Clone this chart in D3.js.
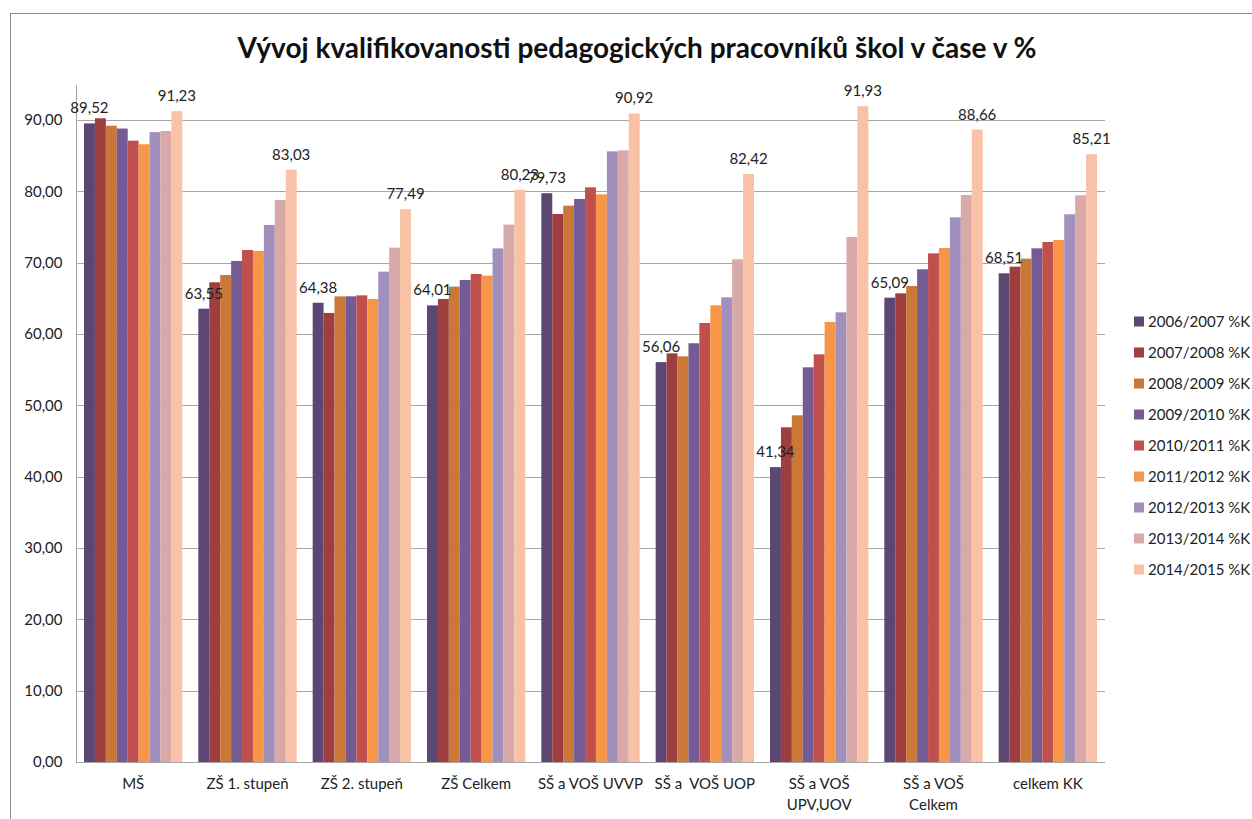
<!DOCTYPE html>
<html>
<head>
<meta charset="utf-8">
<title>Vývoj kvalifikovanosti</title>
<script src="https://d3js.org/d3.v7.min.js"></script>
<style>
body { margin:0; background:#fff; }
svg text { font-family: Lato, "Open Sans", sans-serif; fill:#222; }
</style>
</head>
<body>
<script>
// categories (x axis), "\n" splits into two lines
var categories = ["MŠ", "ZŠ 1. stupeň", "ZŠ 2. stupeň", "ZŠ Celkem", "SŠ a VOŠ UVVP",
  "SŠ a  VOŠ UOP", "SŠ a VOŠ\nUPV,UOV", "SŠ a VOŠ\nCelkem", "celkem KK"];

var seriesNames = ["2006/2007 %K", "2007/2008 %K", "2008/2009 %K", "2009/2010 %K", "2010/2011 %K",
  "2011/2012 %K", "2012/2013 %K", "2013/2014 %K", "2014/2015 %K"];

var colors = ["#5c4672", "#9e3e3f", "#c97837", "#745b95", "#c0504d", "#f79646", "#a190bb", "#d9a9aa", "#f9c1a5"];

// one array per school year, values by category
var s2006 = [89.52, 63.55, 64.38, 64.01, 79.73, 56.06, 41.34, 65.09, 68.51];
var s2007 = [90.24, 67.25, 62.95, 64.91, 76.83, 57.29, 46.92, 65.70, 69.44];
var s2008 = [89.20, 68.27, 65.28, 66.64, 77.99, 56.87, 48.60, 66.73, 70.56];
var s2009 = [88.80, 70.24, 65.28, 67.57, 78.93, 58.70, 55.33, 69.07, 72.01];
var s2010 = [87.10, 71.78, 65.42, 68.41, 80.56, 61.54, 57.15, 71.31, 72.90];
var s2011 = [86.60, 71.64, 64.91, 68.18, 79.58, 64.02, 61.68, 72.06, 73.18];
var s2012 = [88.30, 75.28, 68.74, 72.00, 85.60, 65.14, 63.04, 76.36, 76.78];
var s2013 = [88.46, 78.79, 72.10, 75.33, 85.75, 70.47, 73.60, 79.49, 79.44];
var s2014 = [91.23, 83.03, 77.49, 80.23, 90.92, 82.42, 91.93, 88.66, 85.21];
var series = [s2006, s2007, s2008, s2009, s2010, s2011, s2012, s2013, s2014];

var yTicks = [0, 10, 20, 30, 40, 50, 60, 70, 80, 90];

var W = 1252, H = 819;
var svg = d3.select("body").append("svg").attr("width", W).attr("height", H);

// outer chart border (runs off the right/bottom edge)
svg.append("rect").attr("x", 10.5).attr("y", 13.5).attr("width", 1300).attr("height", 900)
  .attr("fill", "none").attr("stroke", "#8c8c8c").attr("stroke-width", 1);

svg.append("text").attr("x", 637).attr("y", 58).attr("text-anchor", "middle")
  .style("font-size", "28px").style("font-weight", "bold").style("fill", "#111")
  .text("Vývoj kvalifikovanosti pedagogických pracovníků škol v čase v %");

var left = 76, right = 1105, y0 = 762;
var y = d3.scaleLinear().domain([0, 90]).range([y0, 120]);
var x = d3.scaleBand().domain(categories).range([left, right]).paddingInner(0.14).paddingOuter(0.07);
var xs = d3.scaleBand().domain(d3.range(series.length)).range([0, x.bandwidth()]);

// gridlines
svg.append("g").selectAll("line").data(yTicks.slice(1)).join("line")
  .attr("x1", left).attr("x2", right)
  .attr("y1", function(d) { return Math.round(y(d)) + 0.5; })
  .attr("y2", function(d) { return Math.round(y(d)) + 0.5; })
  .attr("stroke", "#a6a6a6");

// y axis
var fmt = function(d) { return d3.format(".2f")(d).replace(".", ","); };
var yAxis = svg.append("g").attr("transform", "translate(" + (left + 0.5) + ",0)")
  .call(d3.axisLeft(y).tickValues(yTicks).tickFormat(fmt).tickSize(0).tickPadding(14));
yAxis.select(".domain").attr("d", "M0," + y(94.9) + "V" + y0).attr("stroke", "#a6a6a6");
yAxis.selectAll("text").style("font-size", "15px").style("font-family", "Lato, sans-serif").attr("fill", "#222");

// bars
var groups = svg.append("g").selectAll("g").data(series).join("g")
  .attr("fill", function(d, i) { return colors[i]; });
groups.each(function(vals, si) {
  d3.select(this).selectAll("rect").data(vals).join("rect")
    .attr("x", function(d, ci) { return x(categories[ci]) + xs(si); })
    .attr("width", xs.bandwidth())
    .attr("y", function(d) { return y(d); })
    .attr("height", function(d) { return y0 - y(d); });
});

// x baseline
svg.append("line").attr("x1", left).attr("x2", right).attr("y1", y0 + 0.5).attr("y2", y0 + 0.5)
  .attr("stroke", "#a6a6a6");

// data labels for first and last series
[0, series.length - 1].forEach(function(si) {
  svg.append("g").selectAll("text").data(series[si]).join("text")
    .attr("x", function(d, ci) { return x(categories[ci]) + xs(si) + xs.bandwidth() / 2; })
    .attr("y", function(d) { return y(d) - 10; })
    .attr("text-anchor", "middle").style("font-size", "15px")
    .text(function(d) { return fmt(d); });
});

// x labels
var xl = svg.append("g").selectAll("text").data(categories).join("text")
  .attr("x", function(d) { return x(d) + x.bandwidth() / 2; })
  .attr("y", 789).attr("text-anchor", "middle").style("font-size", "15px")
  .style("white-space", "pre");
xl.each(function(d) {
  var t = d3.select(this);
  d.split("\n").forEach(function(line, i) {
    t.append("tspan").attr("x", x(d) + x.bandwidth() / 2).attr("dy", i ? 21 : 0).text(line);
  });
});

// legend
var lg = svg.append("g").selectAll("g").data(seriesNames).join("g")
  .attr("transform", function(d, i) { return "translate(1134," + (321.5 + i * 31) + ")"; });
lg.append("rect").attr("x", 0).attr("y", -5).attr("width", 10).attr("height", 10)
  .attr("fill", function(d, i) { return colors[i]; });
lg.append("text").attr("x", 14).attr("y", 5).style("font-size", "15px").text(function(d) { return d; });
</script>
</body>
</html>
